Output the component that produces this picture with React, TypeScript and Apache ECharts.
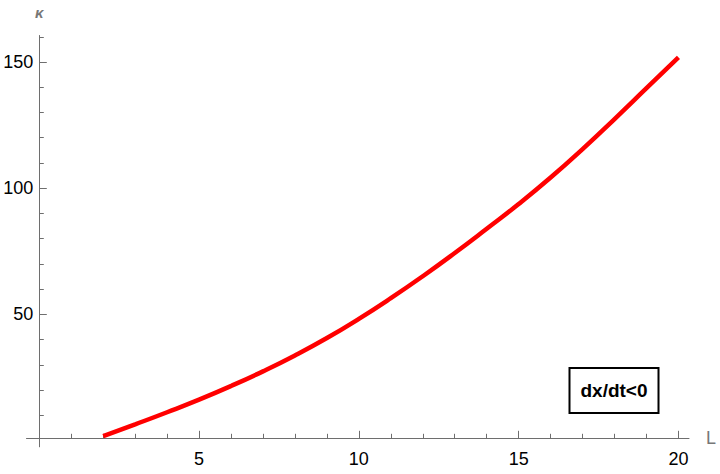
import React, { useEffect, useRef } from "react";
import * as echarts from "echarts";

const L_VALUES = [2, 3, 4, 5, 6, 7, 8, 9, 10, 11, 12, 13, 14, 15, 16, 17, 18, 19, 20];
const KAPPA_VALUES = [1.7, 6.4, 11.2, 16.2, 21.6, 27.4, 33.7, 40.6, 48.2, 56.4, 65.1, 74.3, 83.9, 93.7, 104.2, 115.5, 127.4, 139.6, 151.8];

const X_MAJOR = [5, 10, 15, 20];
const X_MINOR = [1, 2, 3, 4, 6, 7, 8, 9, 11, 12, 13, 14, 16, 17, 18, 19];
const Y_MAJOR = [50, 100, 150];
const Y_MINOR = [10, 20, 30, 40, 60, 70, 80, 90, 110, 120, 130, 140, 160];
const X_RANGE = [-0.4, 20.33];
const Y_RANGE = [-2.5, 160.5];
const ANNOTATION = "dx/dt<0";

export default function App() {
  const ref = useRef<HTMLDivElement>(null);
  useEffect(() => {
    const chart = echarts.init(ref.current!, null, { renderer: "svg" });
    const axisColor = "#6e6e6e";
    const font = "'Liberation Sans', Arial, sans-serif";
    const data = L_VALUES.map((l, i) => [l, KAPPA_VALUES[i]]);

    const xBase = (major: boolean) => ({
      type: "value",
      min: X_RANGE[0],
      max: X_RANGE[1],
      position: "bottom",
      offset: -8.5,
      axisLine: { show: major, onZero: false, lineStyle: { color: axisColor, width: 1 } },
      axisTick: {
        show: true,
        inside: true,
        length: major ? 7.5 : 4.5,
        customValues: major ? X_MAJOR : X_MINOR,
        lineStyle: { color: axisColor, width: 1 },
      },
      axisLabel: {
        show: major,
        customValues: X_MAJOR,
        color: "#000",
        fontSize: 18,
        fontFamily: font,
        margin: 11.5,
      },
      splitLine: { show: false },
      name: major ? "L" : "",
      nameLocation: "end",
      nameGap: 17,
      nameTextStyle: { color: "#777", fontSize: 18, fontFamily: font, verticalAlign: "middle" },
    });

    const yBase = (major: boolean) => ({
      type: "value",
      min: Y_RANGE[0],
      max: Y_RANGE[1],
      position: "left",
      offset: -12.8,
      axisLine: { show: major, onZero: false, lineStyle: { color: axisColor, width: 1 } },
      axisTick: {
        show: true,
        inside: true,
        length: major ? 7.5 : 4.5,
        customValues: major ? Y_MAJOR : Y_MINOR,
        lineStyle: { color: axisColor, width: 1 },
      },
      axisLabel: {
        show: major,
        customValues: Y_MAJOR,
        color: "#000",
        fontSize: 18,
        fontFamily: font,
        margin: 6,
      },
      splitLine: { show: false },
      name: major ? "κ" : "",
      nameLocation: "end",
      nameGap: 16,
      nameTextStyle: { color: "#777", fontSize: 15, fontStyle: "italic", fontWeight: "bold", fontFamily: font },
    });

    chart.setOption({
      animation: false,
      backgroundColor: "#fff",
      grid: { left: 26.5, right: 31, top: 35.5, height: 411.3, containLabel: false, outerBoundsMode: "none" },
      xAxis: [xBase(true), xBase(false)],
      yAxis: [yBase(true), yBase(false)],
      series: [
        {
          type: "line",
          xAxisIndex: 0,
          yAxisIndex: 0,
          data,
          showSymbol: false,
          smooth: 0.5,
          lineStyle: { color: "#ff0000", width: 4.5 },
        },
      ],
      graphic: [
        {
          type: "group",
          left: 568.5,
          top: 367,
          children: [
            {
              type: "rect",
              shape: { x: 0, y: 0, width: 89, height: 45 },
              style: { fill: "#fff", stroke: "#000", lineWidth: 2 },
            },
            {
              type: "text",
              x: 44.5,
              y: 22.5,
              style: {
                text: ANNOTATION,
                fill: "#000",
                font: "bold 19px 'Liberation Sans', Arial, sans-serif",
                textAlign: "center",
                textVerticalAlign: "middle",
              },
            },
          ],
        },
      ],
    });
    return () => chart.dispose();
  }, []);
  return <div ref={ref} style={{ position: "fixed", left: 0, top: 0, width: 720, height: 474 }} />;
}
